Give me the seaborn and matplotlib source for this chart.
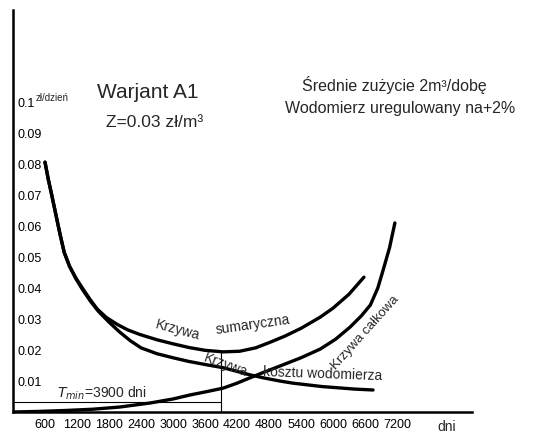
import matplotlib
matplotlib.use("Agg")
import matplotlib.pyplot as plt
import seaborn as sns

# curves: days -> cost (zl / day)
sum_days = [600, 660, 720, 800, 880, 960, 1060, 1180, 1300, 1450, 1580, 1750, 1950, 2150, 2380, 2700,
            3000, 3300, 3600, 3940, 4250, 4550, 4820, 5100, 5400, 5760, 6000, 6300, 6580]
sum_cost = [0.0806, 0.0752, 0.0705, 0.0640, 0.0575, 0.0515, 0.0470, 0.0432, 0.0400, 0.0362, 0.0332,
            0.0305, 0.0283, 0.0265, 0.0250, 0.0233, 0.0220, 0.0208, 0.0199, 0.0194, 0.0196, 0.0207,
            0.0225, 0.0245, 0.0270, 0.0306, 0.0335, 0.0380, 0.0435]

meter_days = [600, 660, 720, 800, 880, 960, 1060, 1180, 1300, 1450, 1600, 1800, 2000, 2200, 2400, 2700,
              3000, 3300, 3640, 3940, 4200, 4440, 4700, 5000, 5250, 5500, 5800, 6100, 6400, 6750]
meter_cost = [0.0806, 0.0752, 0.0705, 0.0640, 0.0575, 0.0515, 0.0470, 0.0430, 0.0396, 0.0358, 0.0325,
              0.0290, 0.0258, 0.0230, 0.0207, 0.0188, 0.0175, 0.0163, 0.0152, 0.0143, 0.0131, 0.0120,
              0.0110, 0.0100, 0.0093, 0.0088, 0.0082, 0.0078, 0.0074, 0.0071]

total_days = [0, 500, 1000, 1500, 2000, 2570, 3000, 3320, 3640, 3940, 4200, 4440, 4700, 5000, 5400, 5760,
              6050, 6320, 6530, 6700, 6840, 6940, 7060, 7160]
total_cost = [0.0, 0.0002, 0.0005, 0.0009, 0.0016, 0.0029, 0.0042, 0.0055, 0.0066, 0.0077, 0.0093, 0.0110,
              0.0128, 0.0148, 0.0175, 0.0203, 0.0235, 0.0274, 0.0310, 0.0345, 0.0400, 0.0458, 0.0530, 0.0610]

x_ticks = [600, 1200, 1800, 2400, 3000, 3600, 4200, 4800, 5400, 6000, 6600, 7200]
y_ticks = [0.01, 0.02, 0.03, 0.04, 0.05, 0.06, 0.07, 0.08, 0.09, 0.1]
y_labels = ["0.01", "0.02", "0.03", "0.04", "0.05", "0.06", "0.07", "0.08", "0.09", "0.1"]

t_min = 3900
t_min_cost = 0.0194

sns.set_theme(style="white")
plt.rcParams['font.family'] = ['Liberation Sans', 'DejaVu Sans']

fig = plt.figure(figsize=(5.33, 4.38), dpi=100)
ax = fig.add_axes([13 / 533, 26 / 438, 459 / 533, 402 / 438])

for xs, ys in [(sum_days, sum_cost), (meter_days, meter_cost), (total_days, total_cost)]:
    sns.lineplot(x=xs, y=ys, ax=ax, color="black", linewidth=2.4, estimator=None, sort=False)

# T min construction lines
ax.plot([t_min, t_min], [0, t_min_cost], color="black", linewidth=0.8)
ax.plot([0, t_min], [0.0032, 0.0032], color="black", linewidth=0.8)

ax.set_xlim(0, 8606)
ax.set_ylim(0, 0.1297)
sns.despine(ax=ax)
for s in ["left", "bottom"]:
    ax.spines[s].set_linewidth(1.8)
    ax.spines[s].set_color("black")

ax.set_xticks(x_ticks)
ax.set_xticklabels([str(v) for v in x_ticks], fontsize=9)
ax.set_yticks(y_ticks)
ax.set_yticklabels(y_labels, fontsize=9)
ax.tick_params(axis="x", direction="in", length=3, width=1, pad=5, colors="black")
ax.tick_params(axis="y", direction="in", length=4, width=1, pad=-3, colors="black")
for lab in ax.get_yticklabels():
    lab.set_ha("left")

ax.text(420, 0.1012, "zł/dzień", fontsize=7, ha="left", va="center")
ax.text(8138, -0.037, "dni", fontsize=10, ha="center", va="center", transform=ax.get_xaxis_transform())

ax.text(2531, 0.1032, "Warjant A1", fontsize=15, ha="center", va="center")
ax.text(2663, 0.0935, "Z=0.03 zł/m³", fontsize=12.5, ha="center", va="center")
ax.text(5419, 0.1055, "Średnie zużycie 2m³/dobę", fontsize=11.5, ha="left", va="center")
ax.text(5100, 0.0980, "Wodomierz uregulowany na+2%", fontsize=11.5, ha="left", va="center")

ax.text(1669, 0.0061, "$T_{min}$=3900 dni", fontsize=10, ha="center", va="center")

ax.text(3094, 0.0265, "Krzywa", fontsize=10, ha="center", va="center", rotation=-15)
ax.text(4500, 0.0281, "sumaryczna", fontsize=10, ha="center", va="center", rotation=8)
ax.text(3994, 0.0152, "Krzywa", fontsize=10, ha="center", va="center", rotation=-20)
ax.text(5813, 0.0123, "kosztu wodomierza", fontsize=10, ha="center", va="center", rotation=-2)
ax.text(6600, 0.0255, "Krzywa całkowa", fontsize=9.5, ha="center", va="center", rotation=48)

fig.savefig("out.png", dpi=100)
